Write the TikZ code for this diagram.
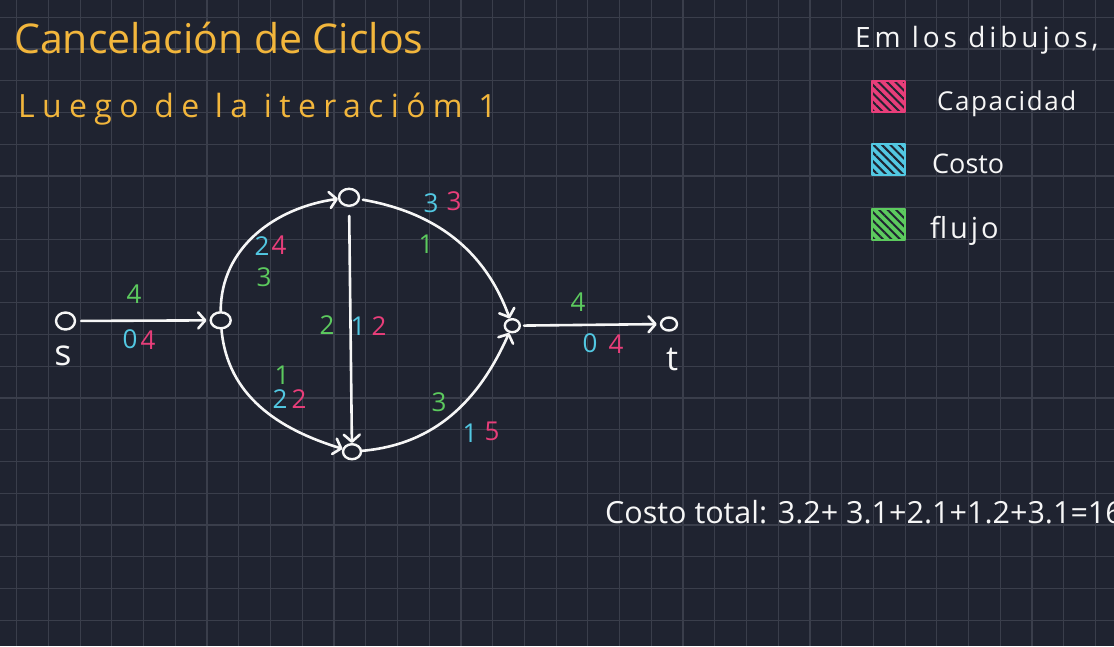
\documentclass[tikz,border=0pt]{standalone}
\usepackage{fontspec}
\setmainfont{Open Sans}
\usetikzlibrary{arrows.meta,shapes.geometric,patterns.meta}
\definecolor{bg}{RGB}{31,35,48}
\definecolor{gridc}{RGB}{58,62,75}
\definecolor{hand}{RGB}{242,182,60}
\definecolor{capc}{RGB}{232,62,122}
\definecolor{costc}{RGB}{82,200,226}
\definecolor{flowc}{RGB}{92,202,94}
\definecolor{ink}{RGB}{246,246,246}
\begin{document}
\begin{tikzpicture}[x=1pt,y=-1pt,
  vert/.style={draw=ink, ellipse, line width=2.4pt, inner sep=0pt},
  edge/.style={draw=ink, line width=2.6pt, line cap=round,
    -{Straight Barb[length=7pt,width=16pt,line cap=round,line join=round]}},
  num/.style={font=\fontsize{26}{26}\selectfont, inner sep=0pt},
  flw/.style={num, text=flowc},
  cst/.style={num, text=costc},
  capl/.style={num, text=capc},
  txt/.style={anchor=base west, inner sep=0pt, text=ink},
  ttl/.style={anchor=base west, inner sep=0pt, text=hand},
  gridline/.style={draw=gridc, line width=1.2pt}
]
\clip (0,0) rectangle (1114,646);
\fill[bg] (0,0) rectangle (1114,646);
\foreach \i in {0,...,34} \draw[gridline] ({16.7+31.73*\i},0) -- ({16.7+31.73*\i},646);
\foreach \j in {0,...,19} \draw[gridline] (0,{17.3+31.73*\j}) -- (1114,{17.3+31.73*\j});

% titles
\node[ttl, font=\fontsize{41}{41}\selectfont] (title) at (14,53) {Cancelación de Ciclos};
\node[ttl, font=\fontsize{32}{32}\selectfont\addfontfeatures{LetterSpace=23}] (sub) at (18,117) {Luego de la iteracióm 1};

% legend
\node[txt, font=\fontsize{28}{28}\selectfont\addfontfeatures{LetterSpace=14}] (legtitle) at (855,47) {Em los dibujos,};
\foreach \c/\y in {capc/81, costc/144, flowc/209} {
  \fill[\c] (872,\y) rectangle ++(33,31);
  \path[pattern={Lines[angle=-45,distance=6pt,line width=2pt]}, pattern color=bg] (872,\y) rectangle ++(33,31);
  \draw[\c, line width=2pt, line join=round] (872,\y) rectangle ++(33,31);
}
\node[txt, font=\fontsize{26}{26}\selectfont\addfontfeatures{LetterSpace=6}] (legcap) at (937,110) {Capacidad};
\node[txt, font=\fontsize{27}{27}\selectfont] (legcost) at (932,173) {Costo};
\node[txt, font=\fontsize{29}{29}\selectfont\addfontfeatures{LetterSpace=10}] (legflow) at (930,238) {flujo};

% total
\node[txt, font=\fontsize{30.5}{30.5}\selectfont] (total) at (605,523) {Costo total: 3.2+ 3.1+2.1+1.2+3.1=16};

% vertices
\node[vert, minimum width=19pt, minimum height=17pt] (s) at (65.5,321) {};
\node[vert, minimum width=20pt, minimum height=16pt] (a) at (220.7,320.3) {};
\node[vert, minimum width=20pt, minimum height=17pt] (b) at (349,197.3) {};
\node[vert, minimum width=18pt, minimum height=15pt] (c) at (352,451.7) {};
\node[vert, minimum width=15pt, minimum height=13pt] (d) at (512.3,325.7) {};
\node[vert, minimum width=16pt, minimum height=13pt] (t) at (669,324) {};
\node[txt, anchor=center, font=\fontsize{36}{36}\selectfont] (sl) at (63,356) {s};
\node[txt, anchor=center, font=\fontsize{34}{34}\selectfont] (tl) at (672,359) {t};

% edges
\draw[edge, shorten <=5pt, shorten >=3pt] (s) -- (a);
\draw[edge] (a) to[out=90,in=188] (b);
\draw[edge, shorten <=3pt] (b) to[out=-10,in=110] (d);
\draw[edge, shorten <=9pt] (b) -- (c);
\draw[edge] (a) to[out=-85,in=163] (c);
\draw[edge] (c) to[out=5,in=-114] (d);
\draw[edge, shorten <=3pt, shorten >=3pt] (d) -- (t);

% labels: flow
\node[flw] (f1) at (134,294) {4};
\node[flw] (f2) at (264,277) {3};
\node[flw] (f3) at (426,244) {1};
\node[flw] (f4) at (327,325) {2};
\node[flw] (f5) at (282,375) {1};
\node[flw] (f6) at (439,402) {3};
\node[flw] (f7) at (578,302) {4};
% labels: cost
\node[cst] (k1) at (130,339) {0};
\node[cst] (k2) at (262,246) {2};
\node[cst] (k3) at (431,203) {3};
\node[cst] (k4) at (358,326) {1};
\node[cst] (k5) at (280,399) {2};
\node[cst] (k6) at (470,433) {1};
\node[cst] (k7) at (590,343) {0};
% labels: capacity
\node[capl] (c1) at (148,340) {4};
\node[capl] (c2) at (279,245) {4};
\node[capl] (c3) at (454,201) {3};
\node[capl] (c4) at (379,326) {2};
\node[capl] (c5) at (299,399) {2};
\node[capl] (c6) at (492,431) {5};
\node[capl] (c7) at (616,344) {4};
\end{tikzpicture}
\end{document}
